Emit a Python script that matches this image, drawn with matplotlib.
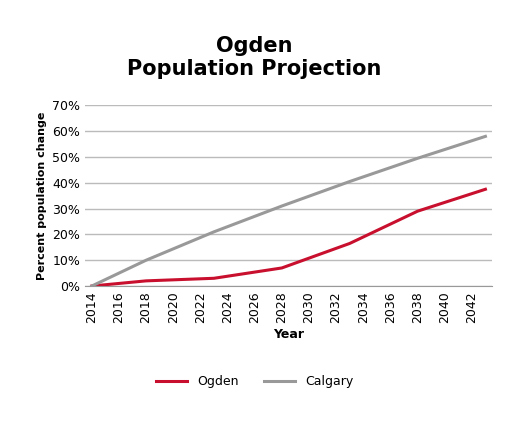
import matplotlib
matplotlib.use("Agg")
import matplotlib.pyplot as plt
from matplotlib.ticker import PercentFormatter

years = [2014, 2018, 2023, 2028, 2033, 2038, 2043]
ogden = [0, 2, 3, 7, 16.5, 29, 37.5]
calgary = [0, 10, 21, 31, 40.5, 49.5, 58]
xticks = list(range(2014, 2043, 2))

fig = plt.figure(figsize=(5.09, 4.25), dpi=100)
ax = fig.add_axes([0.167, 0.327, 0.80, 0.425])
ax.plot(years, ogden, color="#c8102e", lw=2.2, label="Ogden")
ax.plot(years, calgary, color="#999999", lw=2.2, label="Calgary")

ax.set_xlim(2013.5, 2043.5)
ax.set_ylim(0, 70)
ax.set_yticks(range(0, 71, 10))
ax.yaxis.set_major_formatter(PercentFormatter(decimals=0))
ax.set_xticks(xticks)
ax.tick_params(axis="x", rotation=90, length=0, labelsize=9)
ax.tick_params(axis="y", length=0, labelsize=9)
ax.grid(axis="y", color="#bbbbbb", lw=1)
ax.set_axisbelow(True)
for s in ["top", "right", "left"]:
    ax.spines[s].set_visible(False)
ax.spines["bottom"].set_color("#999999")

ax.set_xlabel("Year", fontweight="bold", fontsize=9)
ax.set_ylabel("Percent population change", fontweight="bold", fontsize=8)
fig.suptitle("Ogden\nPopulation Projection", fontweight="bold", fontsize=15, y=0.915)
fig.legend(loc="lower center", ncol=2, frameon=False, fontsize=9,
           bbox_to_anchor=(0.5, 0.06), handlelength=2.5)
fig.savefig("out.png", dpi=100, facecolor="white")
